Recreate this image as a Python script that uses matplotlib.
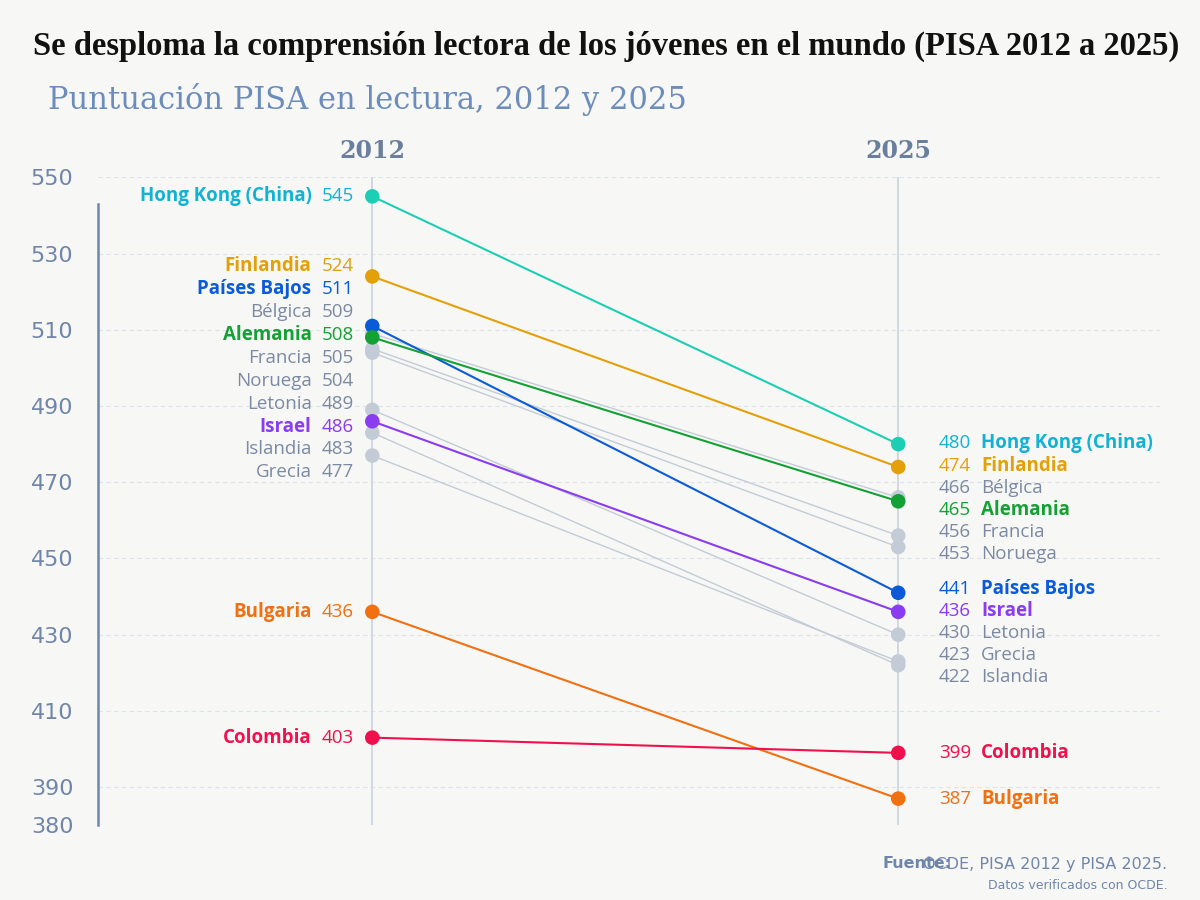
import matplotlib.pyplot as plt

# Datos PISA lectura
paises = ['Hong Kong (China)', 'Finlandia', 'Países Bajos', 'Bélgica', 'Alemania', 'Francia',
          'Noruega', 'Letonia', 'Israel', 'Islandia', 'Grecia', 'Bulgaria', 'Colombia']
p2012 = [545, 524, 511, 509, 508, 505, 504, 489, 486, 483, 477, 436, 403]
p2025 = [480, 474, 441, 466, 465, 456, 453, 430, 436, 422, 423, 387, 399]
destacados = {'Hong Kong (China)': '#1ccfb4', 'Finlandia': '#e3a008', 'Países Bajos': '#0b5bd9',
              'Alemania': '#13a135', 'Israel': '#8a3cf0', 'Bulgaria': '#f07012', 'Colombia': '#f0104c'}
color_etiqueta = {'Hong Kong (China)': '#11b2d4'}
yticks = [550, 530, 510, 490, 470, 450, 430, 410, 390, 380]

gris_linea = '#c3ccd6'
gris_texto = '#7b8aa2'
fondo = '#f7f7f5'


def repartir(valores, gap):
    # separa las etiquetas para que no se solapen
    orden = sorted(range(len(valores)), key=lambda i: -valores[i])
    pos = list(valores)
    for _ in range(200):
        cambio = False
        for a, b in zip(orden, orden[1:]):
            if pos[a] - pos[b] < gap:
                d = (gap - (pos[a] - pos[b])) / 2
                pos[a] += d
                pos[b] -= d
                cambio = True
        if not cambio:
            break
    return pos


fig = plt.figure(figsize=(12, 9), dpi=100, facecolor=fondo)
ax = fig.add_axes([0.082, 0.083, 0.885, 0.72], facecolor=fondo)
ax.set_xlim(2005.23, 2031.48)
ax.set_ylim(380, 550)

for y in yticks:
    ax.axhline(y, color='#dde3ec', lw=0.8, ls=(0, (4, 3)), zorder=0)
for x in (2012, 2025):
    ax.axvline(x, color='#c9d3de', lw=1.2, zorder=0)

orden_z = sorted(range(len(paises)), key=lambda i: paises[i] in destacados)
for i in orden_z:
    c = destacados.get(paises[i], gris_linea)
    dest = paises[i] in destacados
    ax.plot([2012, 2025], [p2012[i], p2025[i]], color=c, lw=1.5 if dest else 1.0,
            zorder=3 if dest else 2)
    ax.scatter([2012, 2025], [p2012[i], p2025[i]], s=110, color=c, zorder=4 if dest else 3,
               edgecolors='none')

lab12 = repartir(p2012, 6.0)
lab25 = repartir(p2025, 5.8)
for i, nombre in enumerate(paises):
    dest = nombre in destacados
    c = color_etiqueta.get(nombre, destacados.get(nombre, gris_texto))
    w = 'bold' if dest else 'normal'
    ax.text(2011.55, lab12[i], str(p2012[i]), ha='right', va='center', fontsize=13.5, color=c,
            family='Open Sans')
    ax.text(2010.5, lab12[i], nombre, ha='right', va='center', fontsize=13.5, color=c,
            fontweight=w, family='Open Sans')
    ax.text(2026.0, lab25[i], str(p2025[i]), ha='left', va='center', fontsize=13.5, color=c,
            family='Open Sans')
    ax.text(2027.05, lab25[i], nombre, ha='left', va='center', fontsize=13.5, color=c,
            fontweight=w, family='Open Sans')

ax.set_yticks(yticks)
ax.set_yticklabels([str(t) for t in yticks], fontsize=16, color='#6f86aa')
ax.tick_params(axis='y', length=0, pad=18)
ax.set_xticks([])
for s in ['top', 'right', 'bottom']:
    ax.spines[s].set_visible(False)
ax.spines['left'].set_color('#6f86aa')
ax.spines['left'].set_linewidth(1.8)
ax.spines['left'].set_bounds(380, 543)

for x in (2012, 2025):
    ax.text(x, 557, str(x), ha='center', va='center', fontsize=17, fontweight='bold',
            color='#6a7f9e', family='DejaVu Serif')

fig.text(0.505, 0.948, 'Se desploma la comprensión lectora de los jóvenes en el mundo (PISA 2012 a 2025)',
         ha='center', va='center', fontsize=23.5, fontweight='bold', family='Liberation Serif',
         color='#111111')
fig.text(0.04, 0.89, 'Puntuación PISA en lectura, 2012 y 2025', ha='left', va='center',
         fontsize=22, family='DejaVu Serif', color='#6c8cbc')
fig.text(0.973, 0.04, 'OCDE, PISA 2012 y PISA 2025.', ha='right', va='center',
         fontsize=11.5, color='#6f86aa')
fig.text(0.793, 0.04, 'Fuente:', ha='right', va='center', fontsize=11.5,
         fontweight='bold', color='#6f86aa')
fig.text(0.973, 0.016, 'Datos verificados con OCDE.', ha='right', va='center',
         fontsize=9, color='#6f86aa')

fig.savefig('out.png', dpi=100, facecolor=fondo)
